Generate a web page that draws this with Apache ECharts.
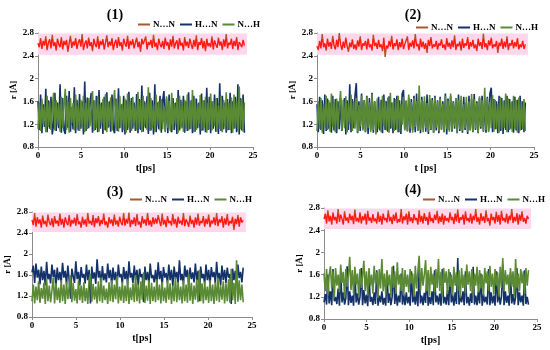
<!DOCTYPE html>
<html><head><meta charset="utf-8">
<script src="https://cdn.jsdelivr.net/npm/echarts@6/dist/echarts.min.js"></script>
<style>html,body{margin:0;padding:0;background:#fff}#c{width:550px;height:350px}</style>
</head><body><div id="c"></div>
<script>
const seriesNames = ['N…N', 'H…N', 'N…H'];
const panelTitles = ['(1)', '(2)', '(3)', '(4)'];
const xTicks = [0, 5, 10, 15, 20, 25];
const yTicks = [0.8, 1.2, 1.6, 2, 2.4, 2.8];
const tEnd = 24;

const nn1 = [2.62,2.55,2.71,2.52,2.66,2.58,2.74,2.5,2.63,2.69,2.53,2.77,2.57,2.64,2.49,2.7,2.6,2.55,2.73,2.51,
2.66,2.59,2.68,2.47,2.62,2.75,2.54,2.65,2.58,2.71,2.52,2.63,2.69,2.56,2.78,2.5,2.61,2.67,2.53,2.72,
2.57,2.64,2.48,2.7,2.6,2.55,2.74,2.52,2.66,2.59,2.69,2.51,2.63,2.76,2.55,2.65,2.58,2.71,2.5,2.62,
2.68,2.54,2.73,2.57,2.64,2.49,2.7,2.61,2.56,2.75,2.52,2.66,2.59,2.69,2.53,2.63,2.72,2.55,2.65,2.47,
2.7,2.6,2.57,2.74,2.51,2.64,2.59,2.68,2.54,2.77,2.56,2.63,2.5,2.7,2.6,2.55,2.66,2.52,2.72,2.58,
2.64,2.5,2.69,2.56,2.75,2.53,2.62,2.67,2.51,2.71,2.58,2.63,2.49,2.73,2.57,2.65,2.54,2.7,2.6,2.52,
2.68,2.56,2.76,2.5,2.64,2.59,2.71,2.53,2.66,2.48,2.7,2.57,2.62,2.55,2.74,2.51,2.67,2.6,2.54,2.72,
2.58,2.65,2.5,2.69,2.56,2.78,2.53,2.63,2.59,2.7,2.52,2.66,2.57,2.73,2.5,2.64,2.6,2.55,2.68,2.58];
const hn1 = [1.6,1.1,1.72,1.04,1.55,1.15,1.82,1.06,1.62,1.12,1.68,1.02,1.2,1.75,1.08,1.58,1.13,1.9,1.05,1.66,
1.1,1.03,1.7,1.14,1.78,1.07,1.5,1.11,1.85,1.04,1.63,1.09,1.73,1.12,1.6,1.02,1.95,1.08,1.67,1.13,
1.57,1.75,1.05,1.62,1.1,1.7,1.06,1.8,1.12,1.58,1.03,1.68,1.09,1.76,1.14,1.6,1.07,1.72,1.11,1.04,
1.65,1.08,1.83,1.13,1.55,1.06,1.7,1.02,1.62,1.1,1.77,1.05,1.66,1.12,1.58,1.08,1.73,1.04,1.64,1.1,
1.88,1.07,1.6,1.13,1.69,1.03,1.75,1.09,1.62,1.02,1.9,1.06,1.58,1.11,1.7,1.05,1.6,1.78,1.08,1.65,
1.04,1.72,1.12,1.06,1.66,1.1,1.58,1.03,1.8,1.09,1.63,1.14,1.7,1.05,1.6,1.08,1.76,1.11,1.62,1.04,
1.7,1.07,1.65,1.13,1.58,1.02,1.74,1.09,1.62,1.06,1.84,1.1,1.68,1.04,1.6,1.12,1.72,1.07,1.66,1.03,
1.92,1.08,1.7,1.11,1.58,1.05,1.64,1.1,1.75,1.04,1.6,1.12,1.68,1.06,1.9,1.02,1.66,1.09,1.72,1.05];
const nh1 = [1.12,1.58,1.08,1.65,1.2,1.52,1.06,1.7,1.15,1.6,1.1,1.48,1.75,1.09,1.62,1.18,1.55,1.07,1.68,1.13,
1.5,1.82,1.1,1.6,1.05,1.66,1.22,1.57,1.09,1.72,1.14,1.53,1.08,1.63,1.19,1.7,1.06,1.58,1.11,1.66,
1.16,1.5,1.78,1.08,1.61,1.13,1.69,1.07,1.55,1.2,1.64,1.1,1.73,1.06,1.59,1.15,1.67,1.09,1.52,1.8,
1.12,1.62,1.07,1.7,1.17,1.56,1.1,1.65,1.05,1.74,1.14,1.6,1.08,1.68,1.21,1.54,1.09,1.77,1.12,1.63,
1.06,1.7,1.16,1.58,1.1,1.85,1.08,1.66,1.13,1.55,1.07,1.72,1.18,1.6,1.09,1.64,1.11,1.52,1.06,1.69,
1.14,1.61,1.08,1.75,1.1,1.57,1.19,1.66,1.05,1.7,1.12,1.54,1.07,1.63,1.16,1.72,1.09,1.59,1.13,1.8,
1.06,1.65,1.1,1.56,1.2,1.71,1.08,1.62,1.14,1.68,1.05,1.58,1.11,1.74,1.09,1.6,1.17,1.66,1.07,1.53,
1.12,1.7,1.06,1.63,1.15,1.76,1.09,1.57,1.1,1.67,1.05,1.72,1.13,1.6,1.08,1.86,1.11,1.64,1.07,1.58];

const nn2 = [2.57,2.5,2.66,2.53,2.78,2.55,2.62,2.49,2.7,2.56,2.64,2.52,2.75,2.58,2.51,2.68,2.55,2.8,2.6,2.5,
2.65,2.54,2.72,2.57,2.47,2.63,2.55,2.69,2.52,2.6,2.5,2.67,2.56,2.74,2.5,2.62,2.58,2.66,2.51,2.7,
2.55,2.6,2.49,2.77,2.57,2.63,2.52,2.68,2.55,2.6,2.48,2.72,2.38,2.58,2.53,2.66,2.56,2.75,2.51,2.62,
2.57,2.69,2.5,2.64,2.55,2.7,2.52,2.6,2.58,2.74,2.5,2.63,2.56,2.67,2.53,2.78,2.57,2.61,2.49,2.7,
2.55,2.65,2.52,2.62,2.45,2.68,2.57,2.73,2.53,2.6,2.56,2.66,2.51,2.62,2.58,2.69,2.54,2.6,2.5,2.71,
2.56,2.63,2.52,2.67,2.55,2.76,2.5,2.61,2.57,2.65,2.49,2.7,2.54,2.62,2.58,2.73,2.51,2.64,2.56,2.68,
2.53,2.6,2.48,2.7,2.57,2.64,2.52,2.79,2.55,2.62,2.5,2.67,2.58,2.72,2.53,2.6,2.56,2.66,2.45,2.63,
2.57,2.7,2.52,2.65,2.55,2.74,2.5,2.62,2.58,2.68,2.53,2.64,2.56,2.71,2.51,2.6,2.55,2.66,2.52,2.6];
const hn2 = [1.55,1.06,1.68,1.1,1.62,1.03,1.72,1.08,1.65,1.12,1.58,1.05,1.7,1.09,1.64,1.04,1.6,1.11,1.66,1.08,
1.07,1.66,1.02,1.62,1.1,1.9,1.06,1.64,1.13,1.7,1.92,1.04,1.6,1.08,1.74,1.11,1.62,1.06,1.7,1.03,
1.66,1.1,1.75,1.05,1.6,1.12,1.06,1.68,1.09,1.63,1.04,1.72,1.1,1.6,1.07,1.69,1.12,1.58,1.04,1.66,
1.1,1.7,1.06,1.62,1.03,1.73,1.8,1.11,1.6,1.08,1.67,1.05,1.64,1.1,1.7,1.06,1.74,1.09,1.62,1.04,
1.68,1.12,1.6,1.07,1.72,1.03,1.64,1.1,1.66,1.05,1.7,1.09,1.62,1.04,1.68,1.11,1.6,1.06,1.74,1.02,
1.65,1.1,1.7,1.07,1.6,1.12,1.66,1.04,1.72,1.08,1.62,1.05,1.68,1.1,1.58,1.03,1.7,1.09,1.64,1.06,
1.73,1.1,1.6,1.04,1.66,1.12,1.7,1.07,1.62,1.05,1.68,1.09,1.74,1.84,1.06,1.64,1.11,1.6,1.04,1.7,
1.08,1.66,1.03,1.62,1.1,1.7,1.06,1.64,1.12,1.6,1.05,1.68,1.09,1.63,1.04,1.7,1.1,1.6,1.06,1.58];
const nh2 = [1.08,1.6,1.12,1.66,1.05,1.55,1.18,1.7,1.1,1.62,1.07,1.74,1.15,1.58,1.06,1.65,1.11,1.52,1.78,1.09,
1.63,1.13,1.69,1.06,1.57,1.2,1.72,1.08,1.6,1.12,1.66,1.05,1.54,1.16,1.7,1.09,1.62,1.07,1.68,1.14,
1.58,1.06,1.73,1.1,1.6,1.02,1.65,1.12,1.55,1.06,1.7,1.17,1.61,1.09,1.67,1.05,1.75,1.13,1.58,1.08,
1.64,1.11,1.7,1.06,1.56,1.19,1.68,1.09,1.62,1.07,1.72,1.12,1.59,1.05,1.66,1.15,1.6,1.08,1.88,1.1,
1.63,1.06,1.69,1.13,1.57,1.07,1.71,1.11,1.62,1.05,1.67,1.14,1.6,1.08,1.65,1.1,1.56,1.06,1.7,1.12,
1.61,1.07,1.74,1.09,1.58,1.16,1.66,1.05,1.63,1.11,1.7,1.08,1.55,1.13,1.68,1.06,1.6,1.1,1.73,1.07,
1.64,1.12,1.57,1.05,1.69,1.15,1.62,1.08,1.84,1.1,1.66,1.06,1.59,1.13,1.71,1.07,1.63,1.11,1.56,1.05,
1.68,1.09,1.6,1.14,1.74,1.06,1.65,1.1,1.58,1.07,1.7,1.12,1.62,1.05,1.67,1.09,1.6,1.11,1.64,1.08];

const nn3 = [2.65,2.55,2.78,2.52,2.7,2.58,2.66,2.5,2.73,2.57,2.63,2.52,2.75,2.6,2.55,2.68,2.51,2.72,2.58,2.64,
2.53,2.77,2.56,2.67,2.5,2.7,2.6,2.55,2.74,2.52,2.65,2.58,2.69,2.54,2.76,2.57,2.62,2.5,2.71,2.56,
2.66,2.52,2.78,2.58,2.63,2.55,2.74,2.51,2.68,2.59,2.72,2.53,2.65,2.57,2.77,2.55,2.62,2.5,2.7,2.58,
2.66,2.53,2.75,2.56,2.64,2.52,2.71,2.6,2.55,2.78,2.54,2.67,2.58,2.79,2.51,2.65,2.57,2.7,2.53,2.76,
2.56,2.62,2.5,2.72,2.58,2.66,2.54,2.78,2.55,2.64,2.52,2.7,2.57,2.68,2.58,2.74,2.62,2.53,2.77,2.56,
2.65,2.51,2.72,2.59,2.63,2.54,2.76,2.57,2.67,2.5,2.71,2.58,2.64,2.55,2.78,2.53,2.66,2.6,2.52,2.73,
2.57,2.65,2.5,2.7,2.56,2.77,2.54,2.63,2.59,2.72,2.52,2.67,2.57,2.75,2.51,2.64,2.58,2.7,2.55,2.78,
2.53,2.66,2.6,2.72,2.5,2.68,2.56,2.76,2.54,2.63,2.58,2.71,2.46,2.67,2.57,2.74,2.52,2.7,2.6,2.64];
const hn3 = [1.65,1.78,1.45,1.82,1.55,1.7,1.42,1.76,1.5,1.68,1.4,1.85,1.52,1.62,1.44,1.8,1.56,1.7,1.38,1.74,
1.5,1.66,1.46,1.83,1.55,1.68,1.42,1.78,1.5,1.15,1.72,1.58,1.45,1.86,1.52,1.66,1.4,1.75,1.55,1.62,
1.44,1.8,1.5,1.7,1.06,1.76,1.53,1.65,1.43,1.9,1.55,1.68,1.4,1.77,1.5,1.63,1.46,1.82,1.54,1.7,
1.42,1.74,1.5,1.66,1.38,1.8,1.56,1.62,1.44,1.75,1.52,1.68,1.41,1.86,1.55,1.64,1.45,1.78,1.5,1.7,
1.4,1.72,1.56,1.62,1.08,1.76,1.5,1.66,1.43,1.82,1.54,1.6,1.46,1.7,1.42,1.84,1.52,1.68,1.4,1.75,
1.55,1.64,1.44,1.8,1.5,1.7,1.38,1.76,1.53,1.66,1.45,1.88,1.5,1.62,1.42,1.78,1.56,1.7,1.4,1.74,
1.52,1.65,1.46,1.82,1.5,1.68,1.1,1.76,1.54,1.62,1.43,1.8,1.5,1.7,1.4,1.75,1.56,1.66,1.44,1.85,
1.52,1.64,1.4,1.78,1.5,1.7,1.45,1.74,1.55,1.62,1.05,1.72,1.5,1.68,1.42,1.8,1.54,1.66,1.46,1.74];
const nh3 = [1.1,1.42,1.06,1.38,1.12,1.48,1.07,1.35,1.15,1.45,1.05,1.52,1.1,1.4,1.08,1.3,1.55,1.06,1.44,1.12,
1.36,1.07,1.5,1.1,1.42,1.05,1.47,1.14,1.38,1.6,1.08,1.45,1.11,1.33,1.06,1.5,1.12,1.4,1.07,1.46,
1.1,1.35,1.05,1.52,1.62,1.09,1.43,1.13,1.38,1.06,1.48,1.1,1.55,1.07,1.4,1.12,1.34,1.05,1.46,1.1,
1.5,1.08,1.42,1.14,1.58,1.06,1.38,1.11,1.47,1.07,1.4,1.1,1.52,1.05,1.36,1.12,1.44,1.08,1.6,1.1,
1.42,1.06,1.48,1.13,1.65,1.07,1.4,1.11,1.5,1.05,1.45,1.1,1.38,1.08,1.52,1.12,1.42,1.06,1.47,1.1,
1.36,1.07,1.5,1.13,1.44,1.05,1.4,1.1,1.56,1.08,1.46,1.12,1.38,1.06,1.5,1.1,1.42,1.07,1.62,1.11,
1.45,1.05,1.4,1.13,1.52,1.08,1.7,1.1,1.44,1.06,1.48,1.12,1.38,1.07,1.5,1.1,1.42,1.05,1.46,1.11,
1.55,1.08,1.4,1.13,1.48,1.06,1.44,1.1,1.52,1.07,1.72,1.12,1.45,1.05,1.88,1.09,1.5,1.12,1.42,1.08];

const nn4 = [2.6,2.7,2.52,2.76,2.56,2.66,2.5,2.72,2.58,2.64,2.52,2.78,2.55,2.68,2.6,2.5,2.74,2.57,2.63,2.53,
2.7,2.58,2.66,2.51,2.77,2.56,2.62,2.54,2.72,2.52,2.65,2.58,2.7,2.5,2.75,2.57,2.63,2.53,2.69,2.56,
2.61,2.52,2.73,2.55,2.66,2.5,2.7,2.58,2.62,2.54,2.76,2.56,2.64,2.51,2.68,2.57,2.72,2.53,2.6,2.55,
2.78,2.52,2.65,2.58,2.7,2.5,2.74,2.56,2.63,2.53,2.69,2.58,2.62,2.5,2.76,2.55,2.66,2.52,2.71,2.57,
2.64,2.49,2.73,2.56,2.62,2.53,2.68,2.58,2.75,2.52,2.65,2.55,2.7,2.5,2.66,2.57,2.62,2.54,2.72,2.58,
2.64,2.51,2.7,2.56,2.77,2.53,2.63,2.59,2.68,2.5,2.74,2.57,2.62,2.54,2.7,2.52,2.66,2.58,2.78,2.55,
2.63,2.5,2.71,2.57,2.65,2.53,2.76,2.56,2.62,2.48,2.7,2.58,2.64,2.52,2.73,2.55,2.67,2.5,2.75,2.57,
2.62,2.54,2.7,2.52,2.66,2.58,2.78,2.53,2.64,2.56,2.71,2.5,2.68,2.57,2.74,2.55,2.62,2.52,2.66,2.6];
const hn4 = [1.1,1.25,1.06,1.6,1.08,1.3,1.05,1.7,1.12,1.2,1.07,1.35,1.04,1.62,1.1,1.28,1.06,1.18,1.75,1.05,
1.3,1.09,1.22,1.04,1.66,1.1,1.26,1.06,1.2,1.72,1.05,1.32,1.08,1.24,1.03,1.6,1.11,1.2,1.05,1.28,
1.07,1.68,1.04,1.22,1.1,1.3,1.06,1.18,1.04,1.64,1.09,1.26,1.05,1.2,1.76,1.07,1.3,1.04,1.22,1.1,
1.62,1.06,1.25,1.05,1.28,1.08,1.2,1.04,1.66,1.1,1.24,1.06,1.3,1.03,1.72,1.08,1.22,1.05,1.27,1.09,
1.62,1.04,1.2,1.07,1.3,1.05,1.68,1.1,1.22,1.06,1.26,1.04,1.7,1.08,1.2,1.06,1.32,1.05,1.64,1.1,
1.24,1.04,1.28,1.07,1.9,1.06,1.22,1.1,1.3,1.05,1.66,1.08,1.2,1.04,1.26,1.09,1.74,1.06,1.22,1.05,
1.3,1.08,1.62,1.04,1.25,1.1,1.2,1.06,1.7,1.05,1.28,1.08,1.22,1.04,1.66,1.1,1.26,1.06,1.2,1.78,
1.05,1.3,1.09,1.22,1.04,1.64,1.08,1.25,1.06,1.2,1.72,1.05,1.28,1.1,1.22,1.04,1.68,1.07,1.2,1.06];
const nh4 = [1.62,1.3,1.7,1.22,1.58,1.75,1.35,1.66,1.18,1.72,1.4,1.6,1.28,1.78,1.45,1.65,1.2,1.7,1.38,1.6,
1.92,1.32,1.68,1.25,1.74,1.42,1.62,1.2,1.7,1.36,1.58,1.85,1.3,1.66,1.22,1.72,1.4,1.6,1.26,1.76,
1.44,1.65,1.18,1.7,1.35,1.88,1.3,1.62,1.24,1.68,1.4,1.6,1.2,1.74,1.36,1.66,1.25,1.82,1.42,1.6,
1.3,1.72,1.22,1.68,1.38,1.6,1.28,1.7,1.44,1.62,1.2,1.76,1.35,1.66,1.94,1.3,1.72,1.4,1.6,1.86,
1.3,1.68,1.22,1.74,1.42,1.62,1.28,1.7,1.36,1.88,1.3,1.65,1.2,1.72,1.45,1.66,1.25,1.7,1.38,1.6,
1.22,1.74,1.4,1.64,1.3,1.68,1.18,1.72,1.36,1.6,1.26,1.78,1.42,1.66,1.3,1.7,1.2,1.62,1.4,1.74,
1.28,1.68,1.35,1.6,1.22,1.72,1.44,1.66,1.3,1.76,1.38,1.62,1.24,1.7,1.4,1.64,1.2,1.74,1.36,1.9,
1.3,1.68,1.42,1.6,1.26,1.72,1.38,1.66,1.2,1.88,1.35,1.62,1.3,1.7,1.44,1.66,1.25,1.72,1.4,1.68];

const panels = [[nn1, hn1, nh1], [nn2, hn2, nh2], [nn3, hn3, nh3], [nn4, hn4, nh4]];

const colNN = '#a8582a', colNNcore = '#ff1a10', colHN = '#14326a', colNH = '#5b8a35';
const serif = '"Liberation Serif","DejaVu Serif",serif';

const grids = [
  {left: 38, right: 297, top: 33, bottom: 203},
  {left: 317, right: 16, top: 33, bottom: 203},
  {left: 32, right: 298, top: 212, bottom: 33},
  {left: 324, right: 13, top: 208, bottom: 31}
];
const titlePos = [[110, 3], [408, 3], [110, 180], [408, 178]];
const legendPos = [[138, 20], [416, 23], [130, 195], [423, 195]];
const xNames = ['t[ps]', 't [ps]', 't[ps]', 't[ps]'];
const yNames = ['r [Å]', 'r [Å]', 'r [Å]', 'r [Å]'];
const lineWidths = [1.4, 1.6, 1.6];

function toXY(arr) {
  return arr.map((v, i) => [i * tEnd / (arr.length - 1), v]);
}

const series = [];
panels.forEach((p, k) => {
  const cols = [null, colHN, colNH];
  p.forEach((arr, j) => {
    const s = {
      name: seriesNames[j], type: 'line', xAxisIndex: k, yAxisIndex: k,
      data: toXY(arr), showSymbol: false, symbol: 'none', animation: false,
      lineStyle: {width: lineWidths[j]}, z: 2 + j
    };
    if (cols[j]) { s.lineStyle.color = cols[j]; s.itemStyle = {color: cols[j]}; }
    if (j === 1) {
      s.markArea = {silent: true, itemStyle: {color: '#ffd6ec'},
        data: [[{coord: [0, 2.42]}, {coord: [24.3, 2.79]}]]};
    }
    series.push(s);
  });
});

const visualMap = panels.map((p, k) => ({
  type: 'piecewise', show: false, seriesIndex: k * 3, dimension: 1,
  pieces: [{lt: 2.52, color: colNN}, {gte: 2.52, lte: 2.69, color: colNNcore}, {gt: 2.69, color: colNN}]
}));

const option = {
  backgroundColor: '#fff',
  animation: false,
  grid: grids,
  title: panelTitles.map((t, k) => ({
    text: t, left: titlePos[k][0], top: titlePos[k][1], textAlign: 'center',
    textStyle: {fontFamily: serif, fontWeight: 'bold', fontSize: 14, color: '#000'}
  })),
  legend: panels.map((p, k) => ({
    left: legendPos[k][0], top: legendPos[k][1], width: 160, itemGap: 5, itemWidth: 12, itemHeight: 2,
    icon: 'rect', padding: 0,
    textStyle: {fontFamily: serif, fontWeight: 'bold', fontSize: 9, color: '#000', padding: [0, 0, 0, -2]},
    data: [
      {name: seriesNames[0], itemStyle: {color: colNN}},
      {name: seriesNames[1], itemStyle: {color: colHN}},
      {name: seriesNames[2], itemStyle: {color: colNH}}
    ],
    selectedMode: false
  })),
  visualMap: visualMap,
  xAxis: grids.map((g, k) => ({
    type: 'value', gridIndex: k, min: xTicks[0], max: xTicks[xTicks.length - 1], interval: 5,
    name: xNames[k], nameLocation: 'middle', nameGap: 16,
    nameTextStyle: {fontFamily: serif, fontWeight: 'bold', fontSize: 10, color: '#000'},
    axisLine: {lineStyle: {color: '#8c8c8c'}},
    axisTick: {show: true, length: 3, lineStyle: {color: '#8c8c8c'}},
    splitLine: {show: false},
    axisLabel: {fontFamily: serif, fontWeight: 'bold', fontSize: 9, color: '#000', margin: 4}
  })),
  yAxis: grids.map((g, k) => ({
    type: 'value', gridIndex: k, min: yTicks[0], max: yTicks[yTicks.length - 1], interval: 0.4,
    name: yNames[k], nameLocation: 'middle', nameGap: 20, nameRotate: 90,
    nameTextStyle: {fontFamily: serif, fontWeight: 'bold', fontSize: 9, color: '#000'},
    axisLine: {show: true, lineStyle: {color: '#8c8c8c'}},
    axisTick: {show: true, length: 3, lineStyle: {color: '#8c8c8c'}},
    splitLine: {show: false},
    axisLabel: {fontFamily: serif, fontWeight: 'bold', fontSize: 9, color: '#000', margin: 4,
      formatter: v => String(Math.round(v * 10) / 10)}
  })),
  series: series
};

const chart = echarts.init(document.getElementById('c'), null, {renderer: 'canvas'});
chart.setOption(option);
</script></body></html>
